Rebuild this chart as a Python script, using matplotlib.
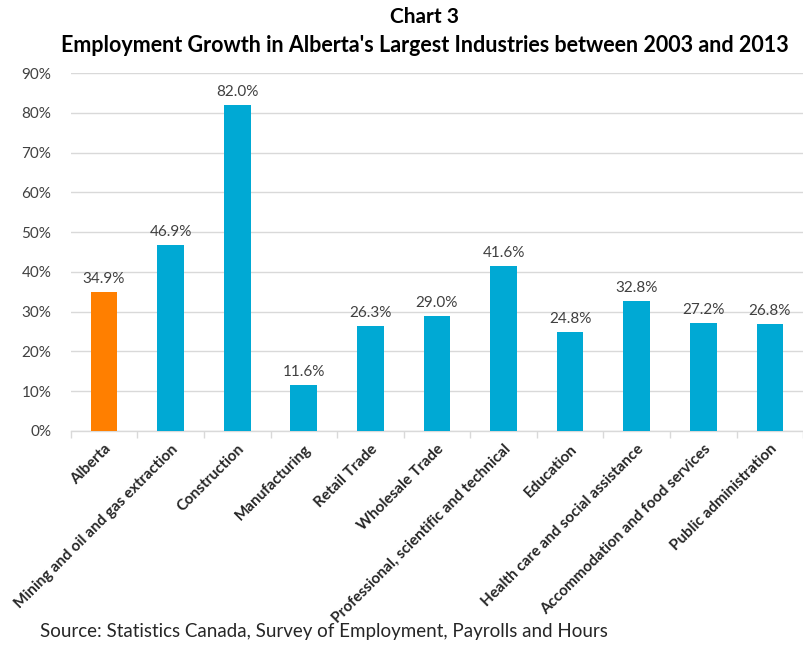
import matplotlib
matplotlib.use('Agg')
import matplotlib.pyplot as plt
import numpy as np

categories = ['Alberta', 'Mining and oil and gas extraction', 'Construction', 'Manufacturing',
              'Retail Trade', 'Wholesale Trade', 'Professional, scientific and technical',
              'Education', 'Health care and social assistance',
              'Accommodation and food services', 'Public administration']
growth = [34.9, 46.9, 82.0, 11.6, 26.3, 29.0, 41.6, 24.8, 32.8, 27.2, 26.8]
yticks = [0, 10, 20, 30, 40, 50, 60, 70, 80, 90]

plt.rcParams['font.family'] = ['Lato', 'DejaVu Sans']

fig = plt.figure(figsize=(8.04, 6.53), dpi=100)
ax = fig.add_axes([0.088, 0.34, 0.911, 0.548])

x = np.arange(len(categories))
colors = ['#FF7F00'] + ['#00A9D4'] * (len(categories) - 1)
bars = ax.bar(x, growth, width=0.4, color=colors, zorder=3)

for xi, v in zip(x, growth):
    ax.text(xi, v + 1.5, f'{v:.1f}%', ha='center', va='bottom', fontsize=11, color='#404040')

ax.set_xlim(-0.5, len(categories) - 0.5)
ax.set_ylim(0, 90)
ax.set_yticks(yticks)
ax.set_yticklabels([f'{t}%' for t in yticks], fontsize=11, color='#404040')
ax.yaxis.grid(True, color='#D9D9D9', linewidth=1, zorder=0)
ax.tick_params(axis='y', length=0, pad=14)

ax.set_xticks(x)
ax.set_xticklabels(categories, rotation=45, ha='right', rotation_mode='anchor',
                   fontsize=11, fontweight='bold', color='#262626')
ax.tick_params(axis='x', length=0, pad=8)
ax.set_xticks(np.arange(len(categories) + 1) - 0.5, minor=True)
ax.tick_params(axis='x', which='minor', length=5, color='#D9D9D9', width=1)

for s in ['top', 'right', 'left']:
    ax.spines[s].set_visible(False)
ax.spines['bottom'].set_color('#D9D9D9')
ax.spines['bottom'].set_linewidth(1)

fig.text(0.528, 0.974, 'Chart 3', ha='center', va='center', fontsize=15, fontweight='bold')
fig.text(0.528, 0.93, "Employment Growth in Alberta's Largest Industries between 2003 and 2013",
         ha='center', va='center', fontsize=15.5, fontweight='bold')
fig.text(0.05, 0.02, 'Source: Statistics Canada, Survey of Employment, Payrolls and Hours',
         ha='left', va='bottom', fontsize=13.5, color='#262626')

fig.savefig('out.png', dpi=100)
